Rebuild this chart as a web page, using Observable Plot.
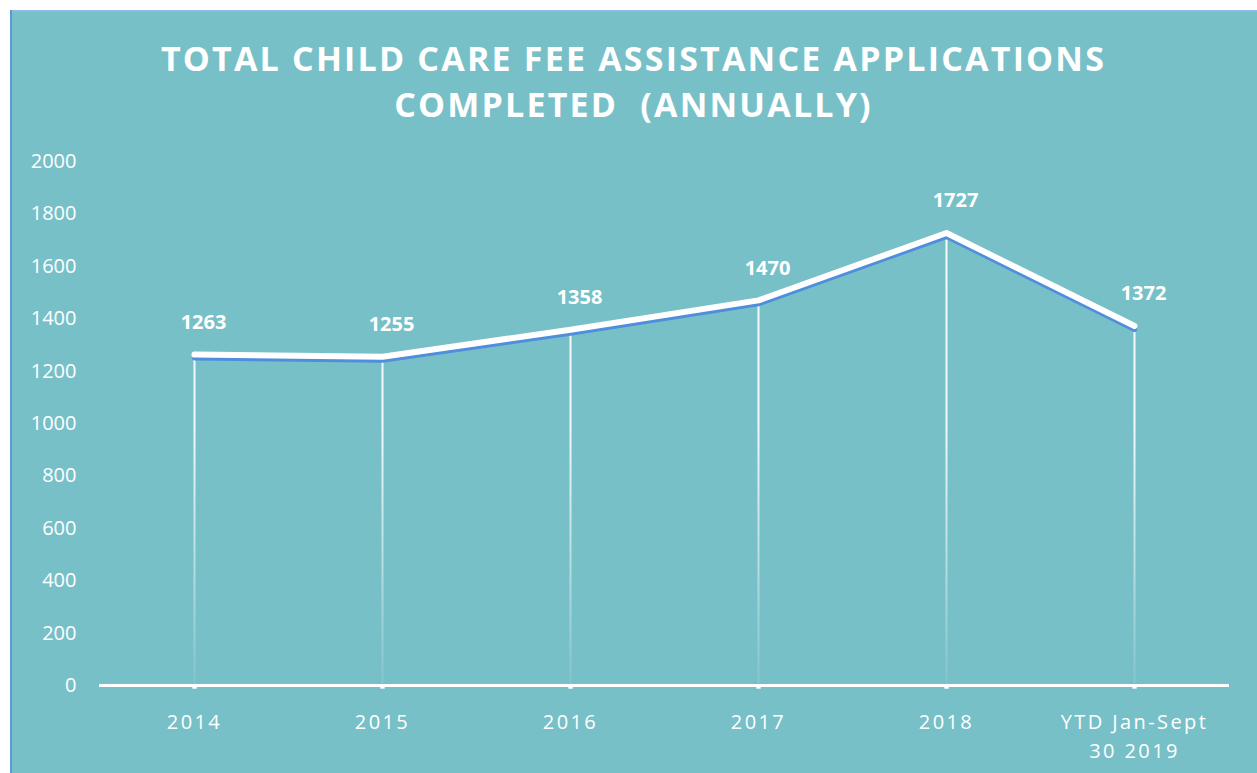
<!DOCTYPE html>
<html>
<head>
<meta charset="utf-8">
<script src="https://cdn.jsdelivr.net/npm/d3@7"></script>
<script src="https://cdn.jsdelivr.net/npm/@observablehq/plot@0.6"></script>
<style>
  body { margin: 0; background: #ffffff; }
  #frame {
    position: absolute; left: 10px; top: 10px; width: 1247px; height: 763px;
    background: #78C0C8;
    box-shadow: inset 2px 0 0 #5B9BD5, inset 0 2px 0 #8DB8E8;
    overflow: hidden;
  }
  #title {
    height: 140px; box-sizing: border-box; padding-top: 25px;
    text-align: center; color: #ffffff;
    font: 700 34px/46px "Open Sans", sans-serif;
    letter-spacing: 2.2px; white-space: pre;
  }
  #chart svg g[aria-label="x-axis tick label"] text { letter-spacing: 2.4px; }
</style>
</head>
<body>
<div id="frame">
  <div id="title">TOTAL CHILD CARE FEE ASSISTANCE APPLICATIONS
COMPLETED  (ANNUALLY)</div>
  <div id="chart"></div>
</div>
<script>
const categories = ["2014", "2015", "2016", "2017", "2018", "YTD Jan-Sept\n30 2019"];
const values = [1263, 1255, 1358, 1470, 1727, 1372];
const yTicks = [0, 200, 400, 600, 800, 1000, 1200, 1400, 1600, 1800, 2000];

const data = categories.map((c, i) => ({category: c, value: values[i]}));

const H = 623, MT = 11, MB = 88;

const chart = Plot.plot({
  width: 1247,
  height: H,
  marginTop: MT,
  marginBottom: MB,
  marginLeft: 89,
  marginRight: 28,
  style: {background: "transparent", color: "white", fontFamily: "Open Sans, sans-serif", fontSize: "20px", overflow: "visible"},
  x: {type: "point", domain: categories, padding: 0.5, label: null},
  y: {domain: [0, 2000], label: null},
  marks: [
    Plot.axisY({ticks: yTicks, tickFormat: d => String(d), tickSize: 0, tickPadding: 23, fontSize: 20, label: null, fill: "white"}),
    Plot.axisX({tickSize: 0, tickPadding: 23, fontSize: 20, lineHeight: 1.45, label: null, fill: "white"}),
    Plot.ruleX(data, {x: "category", y1: 0, y2: "value", stroke: "url(#dropfade)", strokeWidth: 2}),
    Plot.ruleY([0], {stroke: "white", strokeWidth: 3}),
    Plot.dot(data, {x: "category", y: 0, symbol: "square", r: 2.5, fill: "white", dy: 1}),
    Plot.line(data, {x: "category", y: "value", stroke: "#4F8EDD", strokeWidth: 5, dy: 3.5, strokeLinejoin: "round"}),
    Plot.line(data, {x: "category", y: "value", stroke: "white", strokeWidth: 6, strokeLinejoin: "round", strokeLinecap: "round"}),
    Plot.text(data, {x: "category", y: "value", text: d => String(d.value), dy: -32, dx: 9, fontWeight: "bold", fontSize: 20, fill: "white"})
  ]
});

chart.insertAdjacentHTML("afterbegin",
  `<defs><linearGradient id="dropfade" gradientUnits="userSpaceOnUse" x1="0" x2="0" y1="${MT}" y2="${H - MB}">
     <stop offset="0" stop-color="white" stop-opacity="0.95"/>
     <stop offset="0.5" stop-color="white" stop-opacity="0.9"/>
     <stop offset="1" stop-color="white" stop-opacity="0.08"/>
   </linearGradient></defs>`);

document.getElementById("chart").appendChild(chart);
</script>
</body>
</html>
